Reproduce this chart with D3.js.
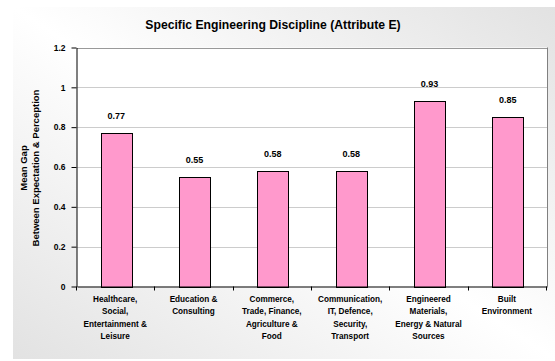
<!DOCTYPE html>
<html>
<head>
<meta charset="utf-8">
<script src="https://cdn.jsdelivr.net/npm/d3@7"></script>
<style>
  html, body { margin: 0; padding: 0; background: #fff; }
  svg { display: block; font-family: "Liberation Sans", Arial, sans-serif; }
</style>
</head>
<body>
<svg id="chart" width="555" height="361"></svg>
<script>
// Mean gap by engineering discipline
const categories = [
  ["Healthcare,", "Social,", "Entertainment &", "Leisure"],
  ["Education &", "Consulting"],
  ["Commerce,", "Trade, Finance,", "Agriculture &", "Food"],
  ["Communication,", "IT, Defence,", "Security,", "Transport"],
  ["Engineered", "Materials,", "Energy & Natural", "Sources"],
  ["Built", "Environment"]
];
const values = [0.77, 0.55, 0.58, 0.58, 0.93, 0.85];
const yTicks = [0, 0.2, 0.4, 0.6, 0.8, 1, 1.2];
const chartTitle = "Specific Engineering Discipline (Attribute E)";
const yTitle = ["Mean Gap", "Between Expectation & Perception"];

const svg = d3.select("#chart");

// Background panel with a soft diagonal gradient
const defs = svg.append("defs");
const grad = defs.append("linearGradient")
  .attr("id", "bg").attr("x1", "0%").attr("y1", "100%").attr("x2", "100%").attr("y2", "0%");
grad.append("stop").attr("offset", "0%").attr("stop-color", "#e2e2e2");
grad.append("stop").attr("offset", "50%").attr("stop-color", "#ffffff");
grad.append("stop").attr("offset", "100%").attr("stop-color", "#e2e2e2");
svg.append("rect").attr("x", 13).attr("y", 7).attr("width", 555 - 13).attr("height", 359 - 7)
  .attr("fill", "url(#bg)");

const plot = { left: 77, right: 547, top: 47.5, bottom: 286.5 };

const x = d3.scaleBand()
  .domain(d3.range(categories.length))
  .range([plot.left, plot.right])
  .paddingInner(0.6).paddingOuter(0.3);
const xb = d3.scaleBand().domain(d3.range(categories.length)).range([plot.left, plot.right]);

const y = d3.scaleLinear().domain([0, 1.2]).range([plot.bottom, plot.top]);

// Plot area
svg.append("rect")
  .attr("x", plot.left).attr("y", plot.top)
  .attr("width", plot.right - plot.left).attr("height", plot.bottom - plot.top)
  .attr("fill", "#fff");

// Gridlines
svg.append("g").selectAll("line").data(yTicks.filter(d => d > 0)).join("line")
  .attr("x1", plot.left).attr("x2", plot.right)
  .attr("y1", d => Math.round(y(d)) + 0.5).attr("y2", d => Math.round(y(d)) + 0.5)
  .attr("stroke", d => d === 1.2 ? "#999" : "#cccccc").attr("stroke-width", 1);

// Right border of the plot area
svg.append("line")
  .attr("x1", plot.right + 0.5).attr("x2", plot.right + 0.5)
  .attr("y1", plot.top).attr("y2", plot.bottom)
  .attr("stroke", "#808080");

// Bars
svg.append("g").selectAll("rect").data(values).join("rect")
  .attr("x", (d, i) => Math.round(x(i)) + 0.5)
  .attr("y", d => Math.round(y(d)) + 0.5)
  .attr("width", Math.round(x.bandwidth()))
  .attr("height", d => Math.round(y(0)) - Math.round(y(d)))
  .attr("fill", "#ff99cc").attr("stroke", "#000").attr("stroke-width", 1);

// Value labels
svg.append("g").selectAll("text").data(values).join("text")
  .attr("x", (d, i) => x(i) + x.bandwidth() / 2)
  .attr("y", d => y(d) - 14)
  .attr("text-anchor", "middle")
  .attr("font-size", "9px").attr("font-weight", "bold").attr("fill", "#000")
  .text(d => d.toFixed(2));

// Y axis
const yAxis = svg.append("g")
  .attr("transform", `translate(${plot.left - 0.5},0)`)
  .call(d3.axisLeft(y).tickValues(yTicks).tickSize(5).tickSizeOuter(0)
    .tickFormat(d => d3.format("")(+d.toFixed(1))));
yAxis.select(".domain").attr("stroke", "#000");
yAxis.selectAll(".tick line").attr("stroke", "#000");
yAxis.selectAll(".tick text")
  .attr("font-size", "8.5px").attr("font-weight", "bold").attr("fill", "#000")
  .attr("font-family", "Liberation Sans, Arial, sans-serif").attr("x", -11);

// X axis
const xAxis = svg.append("g")
  .attr("transform", `translate(0,${plot.bottom})`)
  .call(d3.axisBottom(xb).tickSize(0).tickSizeOuter(0).tickFormat(""));
xAxis.select(".domain").attr("stroke", "#000");
xAxis.selectAll(".tick").remove();
// Category separator ticks
xAxis.selectAll("line.sep").data(d3.range(categories.length + 1)).join("line")
  .attr("class", "sep")
  .attr("x1", i => Math.round(plot.left + i * xb.bandwidth()) - 0.5)
  .attr("x2", i => Math.round(plot.left + i * xb.bandwidth()) - 0.5)
  .attr("y1", 0).attr("y2", 4).attr("stroke", "#000");

// Category labels
const catG = svg.append("g").selectAll("text").data(categories).join("text")
  .attr("text-anchor", "middle")
  .attr("font-size", "8.2px").attr("font-weight", "bold").attr("fill", "#000")
  .attr("transform", (d, i) => `translate(${xb(i) + xb.bandwidth() / 2 - 1},302)`);
catG.selectAll("tspan").data(d => d).join("tspan")
  .attr("x", 0).attr("y", (d, j) => j * 12.3)
  .text(d => d);

// Title
svg.append("text")
  .attr("x", 273).attr("y", 29)
  .attr("text-anchor", "middle")
  .attr("font-size", "12.2px").attr("font-weight", "bold").attr("fill", "#000")
  .text(chartTitle);

// Y axis title
const yt = svg.append("text")
  .attr("transform", "translate(26.5,168) rotate(-90)")
  .attr("text-anchor", "middle")
  .attr("font-size", "9.5px").attr("font-weight", "bold").attr("fill", "#000");
yt.selectAll("tspan").data(yTitle).join("tspan")
  .attr("x", 0).attr("y", (d, j) => j * 12)
  .text(d => d);
</script>
</body>
</html>
